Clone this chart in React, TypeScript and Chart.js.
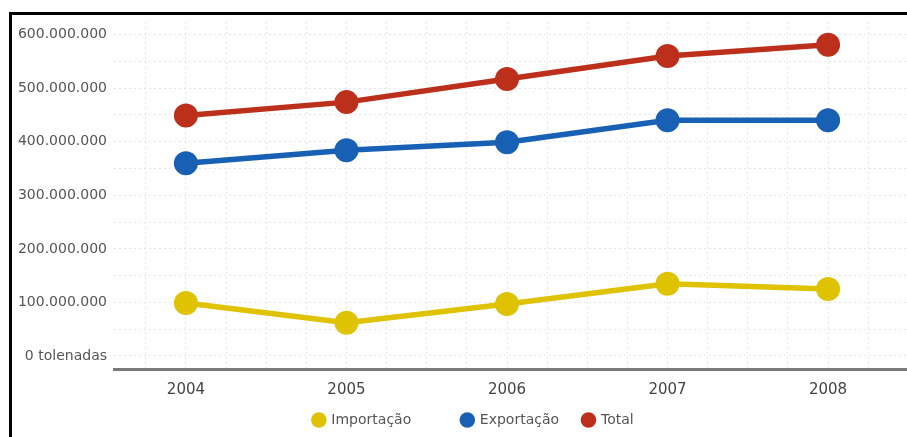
import React, { useEffect, useRef } from "react";
import { Chart, registerables } from "chart.js";

Chart.register(...registerables);

const years = [2004, 2005, 2006, 2007, 2008];
const importacao = [99e6, 62e6, 97e6, 135e6, 125e6];
const exportacao = [360e6, 384e6, 399e6, 440e6, 440e6];
const total = [449e6, 474e6, 517e6, 560e6, 581e6];
const seriesNames = ["Importação", "Exportação", "Total"];
const legendGaps = ["\u00A0".repeat(8), "\u00A0".repeat(2), ""];
const yGridValues = [0, 50e6, 100e6, 150e6, 200e6, 250e6, 300e6, 350e6, 400e6, 450e6, 500e6, 550e6, 600e6];
const yLabelValues = [0, 100e6, 200e6, 300e6, 400e6, 500e6, 600e6];
const zeroLabel = "0 tolenadas";

const fmt = (v: number) => {
  const n = Math.round(v);
  return n.toString().replace(/\B(?=(\d{3})+(?!\d))/g, ".");
};

export default function App() {
  const ref = useRef<HTMLCanvasElement>(null);
  useEffect(() => {
    if (!ref.current) return;
    const fam = "DejaVu Sans";
    const mk = (name: string, vals: number[], color: string) => ({
      label: name,
      data: vals.map((v, i) => ({ x: years[i], y: v })),
      borderColor: color,
      backgroundColor: color,
      pointBackgroundColor: color,
      pointBorderColor: color,
      borderWidth: 5.5,
      pointRadius: 12,
      pointBorderWidth: 0,
      tension: 0,
    });
    const chart = new Chart(ref.current, {
      type: "line",
      data: {
        datasets: [
          mk(seriesNames[0], importacao, "#DFC200"),
          mk(seriesNames[1], exportacao, "#1760B4"),
          mk(seriesNames[2], total, "#BC301B"),
        ],
      },
      options: {
        animation: false,
        responsive: false,
        layout: { padding: { top: 22, bottom: 0, left: 0, right: 0 } },
        plugins: {
          tooltip: { enabled: false },
          legend: {
            position: "bottom",
            labels: {
              usePointStyle: true,
              pointStyle: "circle",
              boxWidth: 11,
              boxHeight: 11,
              padding: 15,
              color: "#555",
              font: { family: fam, size: 14 },
              generateLabels: (c: any) => {
                const items = Chart.defaults.plugins.legend.labels.generateLabels(c);
                return items.map((it: any, i: number) => ({ ...it, text: it.text + legendGaps[i] }));
              },
            },
          },
        },
        scales: {
          x: {
            type: "linear",
            min: 2003.552,
            max: 2008.666,
            afterFit: (s: any) => {
              s.height = 29;
            },
            grid: { color: "#e6e6e6", drawTicks: false },
            border: { display: true, color: "#7a7a7a", width: 3, dash: [2, 3] },
            ticks: {
              stepSize: 0.25,
              autoSkip: false,
              maxRotation: 0,
              includeBounds: false,
              padding: 12,
              color: "#444",
              font: { family: fam, size: 15 },
              callback: function (v: any) {
                const n = Number(v);
                return Math.abs(n - Math.round(n)) < 1e-6 ? String(Math.round(n)) : "";
              },
            },
          },
          y: {
            type: "linear",
            min: -24.3e6,
            max: 623.6e6,
            afterBuildTicks: (s: any) => {
              s.ticks = yGridValues.map((v) => ({ value: v }));
            },
            afterFit: (s: any) => {
              s.width = 114;
            },
            grid: { color: "#e6e6e6", drawTicks: false },
            border: { display: false, dash: [2, 3] },
            ticks: {
              autoSkip: false,
              padding: 7,
              color: "#555",
              font: { family: fam, size: 14 },
              callback: function (v: any) {
                const n = Number(v);
                if (n === 0) return zeroLabel;
                return yLabelValues.includes(n) ? fmt(n) : "";
              },
            },
          },
        },
      },
    });
    return () => chart.destroy();
  }, []);
  return (
    <div
      style={{
        position: "fixed",
        left: 0,
        top: 0,
        width: 907,
        height: 437,
        overflow: "hidden",
        background: "#fff",
      }}
    >
      <canvas ref={ref} width={947} height={437} style={{ position: "absolute", left: 0, top: 0, width: 947, height: 437 }} />
      <div
        style={{
          position: "absolute",
          left: 9,
          top: 12,
          width: 940,
          height: 440,
          borderTop: "3px solid #000",
          borderLeft: "3px solid #000",
          boxSizing: "border-box",
          pointerEvents: "none",
        }}
      />
    </div>
  );
}
